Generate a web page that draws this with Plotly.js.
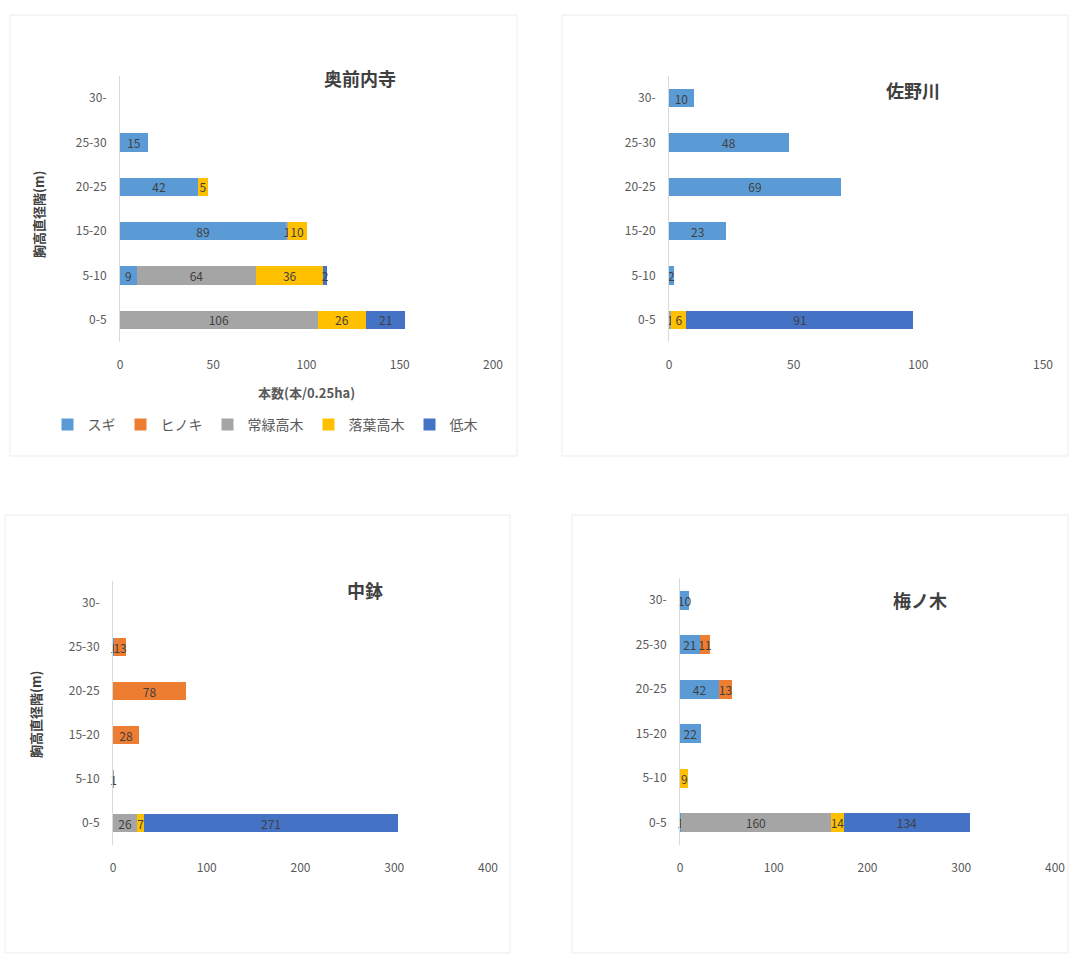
<!DOCTYPE html>
<html><head><meta charset="utf-8">
<script src="https://cdn.plot.ly/plotly-3.0.1.min.js"></script>
<style>html,body{margin:0;padding:0;background:#fff}#chart{width:1070px;height:954px}</style>
</head><body><div id="chart"></div>
<script>
const categories = ['0-5','5-10','15-20','20-25','25-30','30-'];
const seriesNames = ['スギ','ヒノキ','常緑高木','落葉高木','低木'];
const seriesColors = ['#5B9BD5','#ED7D31','#A5A5A5','#FFC000','#4472C4'];
const panelTitles = ['奥前内寺','佐野川','中鉢','梅ノ木'];
const yTitle = '胸高直径階(m)';
const xTitle = '本数(本/0.25ha)';

// values per panel, per series, in category order 0-5 ... 30-
const okumae_sugi    = [0, 9, 89, 42, 15, 0];
const okumae_hinoki  = [0, 0, 0, 0, 0, 0];
const okumae_joryoku = [106, 64, 1, 0, 0, 0];
const okumae_rakuyo  = [26, 36, 10, 5, 0, 0];
const okumae_teiboku = [21, 2, 0, 0, 0, 0];

const sanogawa_sugi    = [0, 2, 23, 69, 48, 10];
const sanogawa_hinoki  = [0, 0, 0, 0, 0, 0];
const sanogawa_joryoku = [1, 0, 0, 0, 0, 0];
const sanogawa_rakuyo  = [6, 0, 0, 0, 0, 0];
const sanogawa_teiboku = [91, 0, 0, 0, 0, 0];

const nakabachi_sugi    = [0, 0, 0, 0, 1, 0];
const nakabachi_hinoki  = [0, 0, 28, 78, 13, 0];
const nakabachi_joryoku = [26, 1, 0, 0, 0, 0];
const nakabachi_rakuyo  = [7, 0, 0, 0, 0, 0];
const nakabachi_teiboku = [271, 0, 0, 0, 0, 0];

const umenoki_sugi    = [1, 0, 22, 42, 21, 10];
const umenoki_hinoki  = [0, 0, 0, 13, 11, 0];
const umenoki_joryoku = [160, 0, 0, 0, 0, 0];
const umenoki_rakuyo  = [14, 9, 0, 0, 0, 0];
const umenoki_teiboku = [134, 0, 0, 0, 0, 0];

const xRanges = [[0,200],[0,150],[0,400],[0,400]];
const xTicks = [[0,50,100,150,200],[0,50,100,150],[0,100,200,300,400],[0,100,200,300,400]];

const panels = [
  [okumae_sugi, okumae_hinoki, okumae_joryoku, okumae_rakuyo, okumae_teiboku],
  [sanogawa_sugi, sanogawa_hinoki, sanogawa_joryoku, sanogawa_rakuyo, sanogawa_teiboku],
  [nakabachi_sugi, nakabachi_hinoki, nakabachi_joryoku, nakabachi_rakuyo, nakabachi_teiboku],
  [umenoki_sugi, umenoki_hinoki, umenoki_joryoku, umenoki_rakuyo, umenoki_teiboku]
];

const W = 1070, H = 954;
const FONT = '"Noto Sans CJK JP", "Noto Sans", sans-serif';
// plot-area pixel boxes [left, right, top, bottom]
const boxes = [[120,493,76,342],[669,1043,76,342],[113,488,581,845],[680,1055,578,845]];
// outer chart frames [left, right, top, bottom]
const frames = [[10,517,15,456],[562,1068,15,456],[5,510,515,953],[572,1068,515,953]];
const titlePos = [[360,78],[913,90],[365,590],[920,600]];

const traces = [];
panels.forEach((series, p) => {
  const ax = p === 0 ? '' : String(p + 1);
  series.forEach((vals, s) => {
    traces.push({
      type: 'bar', orientation: 'h',
      y: categories, x: vals,
      name: seriesNames[s],
      legendgroup: seriesNames[s],
      showlegend: p === 0,
      marker: {color: seriesColors[s]},
      text: vals.map(v => v ? String(v) : ''),
      textposition: 'inside', insidetextanchor: 'middle', textangle: 0,
      constraintext: 'none', cliponaxis: false,
      textfont: {color: '#404040', size: 12, family: FONT},
      xaxis: 'x' + ax, yaxis: 'y' + ax,
      hoverinfo: 'x+y+name'
    });
  });
});

const layout = {
  width: W, height: H,
  margin: {l: 0, r: 0, t: 0, b: 0},
  paper_bgcolor: '#fff', plot_bgcolor: 'rgba(0,0,0,0)',
  barmode: 'stack', bargap: 0.58,
  uniformtext: {mode: 'show', minsize: 11},
  font: {family: FONT, color: '#595959', size: 12},
  showlegend: true,
  legend: {orientation: 'h', x: 265/W, xanchor: 'center', y: 1 - 425/H, yanchor: 'middle',
           font: {size: 14, color: '#595959', family: FONT}, traceorder: 'normal'},
  shapes: frames.map(f => ({type: 'rect', xref: 'paper', yref: 'paper',
    x0: f[0]/W, x1: f[1]/W, y0: 1 - f[3]/H, y1: 1 - f[2]/H,
    line: {color: '#ececec', width: 1}, layer: 'below'})),
  annotations: []
};

boxes.forEach((b, p) => {
  const ax = p === 0 ? '' : String(p + 1);
  layout['xaxis' + ax] = {
    domain: [b[0]/W, b[1]/W], anchor: 'y' + ax,
    range: xRanges[p], tickvals: xTicks[p], showgrid: false, zeroline: false,
    showline: false, ticks: '', ticklabelstandoff: 14,
    tickfont: {size: 12, color: '#595959'}, fixedrange: true
  };
  layout['yaxis' + ax] = {
    domain: [1 - b[3]/H, 1 - b[2]/H], anchor: 'x' + ax,
    type: 'category', categoryorder: 'array', categoryarray: categories,
    range: [-0.5, 5.5], showgrid: false, zeroline: false,
    showline: true, linecolor: '#d9d9d9', linewidth: 1, ticks: '',
    ticklabelstandoff: 10,
    tickfont: {size: 12, color: '#595959'}, fixedrange: true
  };
  layout.annotations.push({
    xref: 'paper', yref: 'paper', x: titlePos[p][0]/W, y: 1 - titlePos[p][1]/H,
    xanchor: 'center', yanchor: 'middle',
    text: '<b>' + panelTitles[p] + '</b>', showarrow: false,
    font: {size: 18, color: '#404040', family: FONT}
  });
});

// y-axis titles (left panels)
layout.annotations.push({xref: 'paper', yref: 'paper', x: 38/W, y: 1 - 215/H, xanchor: 'center', yanchor: 'middle',
  text: '<b>' + yTitle + '</b>', textangle: -90, showarrow: false, font: {size: 13, color: '#404040', family: FONT}});
layout.annotations.push({xref: 'paper', yref: 'paper', x: 35/W, y: 1 - 715/H, xanchor: 'center', yanchor: 'middle',
  text: '<b>' + yTitle + '</b>', textangle: -90, showarrow: false, font: {size: 13, color: '#404040', family: FONT}});
// x-axis title (first panel)
layout.annotations.push({xref: 'paper', yref: 'paper', x: 306/W, y: 1 - 392/H, xanchor: 'center', yanchor: 'middle',
  text: '<b>' + xTitle + '</b>', showarrow: false, font: {size: 13, color: '#595959', family: FONT}});

Plotly.newPlot('chart', traces, layout, {displayModeBar: false, staticPlot: true});
</script></body></html>
